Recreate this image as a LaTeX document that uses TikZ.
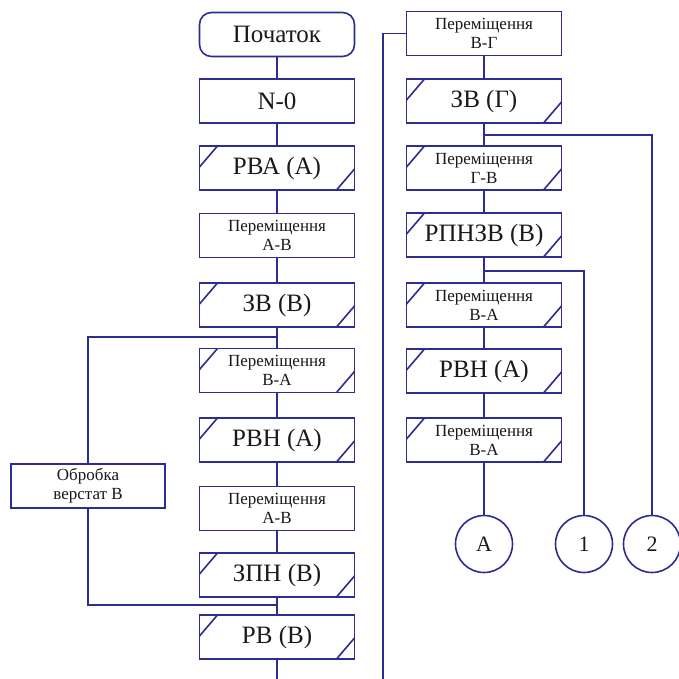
\documentclass[tikz,border=0pt]{standalone}
\usepackage{fontspec}
\setmainfont{Liberation Serif}
\definecolor{flowline}{RGB}{45,45,145}
\definecolor{flowtext}{RGB}{25,25,25}
\begin{document}
\begin{tikzpicture}[x=1pt,y=-1pt,
  line/.style={draw=flowline,line width=1.6pt},
  box/.style={draw=flowline,line width=1.6pt,fill=white,minimum width=155pt,minimum height=44pt,
    inner sep=0pt,text=flowtext,align=center},
  big/.style={font=\fontsize{25}{28}\selectfont},
  small/.style={font=\fontsize{17}{19}\selectfont},
  slashed/.style={path picture={
    \draw[flowline,line width=1.6pt]
      ([yshift=-21pt]path picture bounding box.north west) -- ([xshift=18pt]path picture bounding box.north west)
      ([yshift=21pt]path picture bounding box.south east) -- ([xshift=-18pt]path picture bounding box.south east);}},
  conn/.style={draw=flowline,line width=1.6pt,circle,minimum size=57pt,inner sep=0pt,text=flowtext,
    font=\fontsize{22}{24}\selectfont,fill=white}
]
\useasboundingbox (0,0) rectangle (678,679);

% left column
\node[box,big,rounded corners=12pt] (start) at (277,34.5) {Початок};
\node[box,big] (n0) at (277,101) {N-0};
\node[box,big,slashed] (rva) at (277,168) {РВА (А)};
\node[box,small] (mab1) at (277,235.5) {Переміщення\\А-В};
\node[box,big,slashed] (zvb) at (277,305) {ЗВ (В)};
\node[box,small,slashed] (mba1) at (277,370.5) {Переміщення\\В-А};
\node[box,big,slashed] (rvn1) at (277,440) {РВН (А)};
\node[box,small] (mab2) at (277,508.5) {Переміщення\\А-В};
\node[box,big,slashed] (zpn) at (277,575) {ЗПН (В)};
\node[box,big,slashed] (rvb) at (277,637) {РВ (В)};
\coordinate (leftend) at (277,679);

% side branch: machining on machine B
\node[box,small,minimum width=154pt] (obr) at (88,486) {Обробка\\верстат В};
\coordinate (splitL) at (277,337);
\coordinate (mergeL) at (277,605);

% right column
\node[box,small] (mbg) at (484,33.5) {Переміщення\\В-Г};
\node[box,big,slashed] (zvg) at (484,101) {ЗВ (Г)};
\node[box,small,slashed] (mgb) at (484,168) {Переміщення\\Г-В};
\node[box,big,slashed] (rpnzv) at (484,235) {РПНЗВ (В)};
\node[box,small,slashed] (mba2) at (484,305) {Переміщення\\В-А};
\node[box,big,slashed] (rvn2) at (484,371) {РВН (А)};
\node[box,small,slashed] (mba3) at (484,440) {Переміщення\\В-А};

% off-page connectors
\node[conn] (ca) at (484,544) {A};
\node[conn] (c1) at (584,544) {1};
\node[conn] (c2) at (652,544) {2};

% transfer line between columns
\coordinate (busbot) at (383,679);
\coordinate (bustop) at (383,33.5);

\coordinate (split2) at (484,135);
\coordinate (split1) at (484,271);

% connectors, left column
\draw[line] (start) -- (n0);
\draw[line] (n0) -- (rva);
\draw[line] (rva) -- (mab1);
\draw[line] (mab1) -- (zvb);
\draw[line] (zvb) -- (mba1);
\draw[line] (mba1) -- (rvn1);
\draw[line] (rvn1) -- (mab2);
\draw[line] (mab2) -- (zpn);
\draw[line] (zpn) -- (rvb);
\draw[line] (rvb) -- (leftend);
\draw[line] (splitL) -| (obr.north);
\draw[line] (obr.south) |- (mergeL);

% connectors, right column
\draw[line] (busbot) -- (bustop) -- (mbg.west);
\draw[line] (mbg) -- (zvg);
\draw[line] (zvg) -- (mgb);
\draw[line] (mgb) -- (rpnzv);
\draw[line] (rpnzv) -- (mba2);
\draw[line] (mba2) -- (rvn2);
\draw[line] (rvn2) -- (mba3);
\draw[line] (mba3) -- (ca);
\draw[line] (split2) -| (c2.north);
\draw[line] (split1) -| (c1.north);
\end{tikzpicture}
\end{document}
